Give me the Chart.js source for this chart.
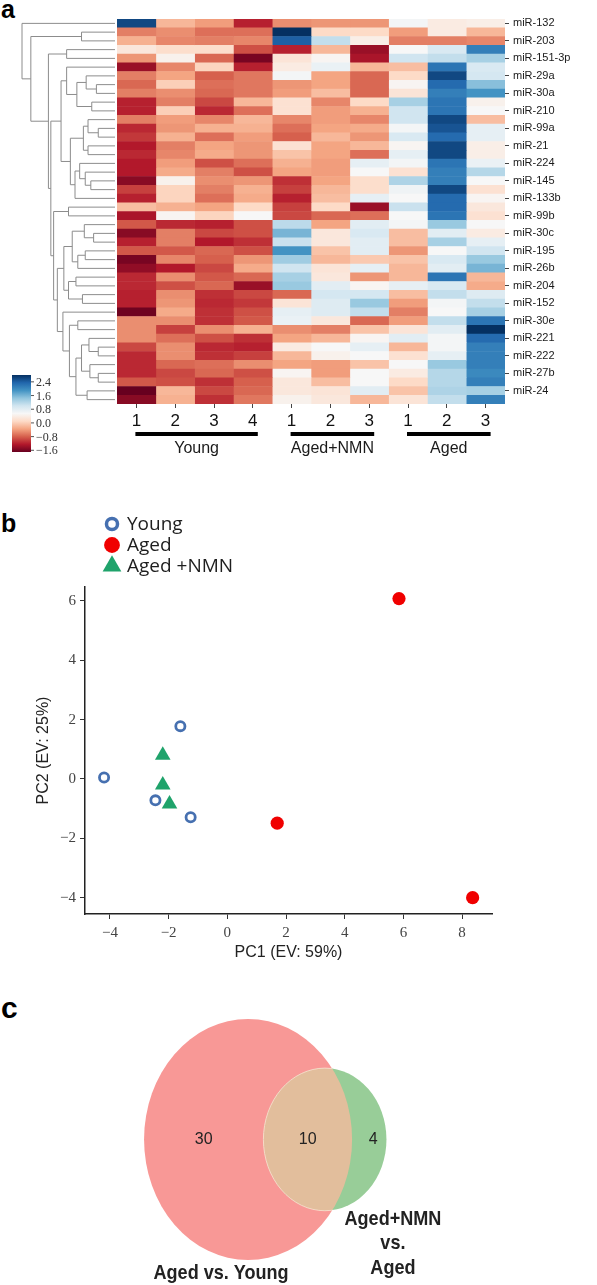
<!DOCTYPE html>
<html>
<head>
<meta charset="utf-8">
<script src="https://cdn.jsdelivr.net/npm/chart.js@4.4.1/dist/chart.umd.min.js"></script>
<style>
  html, body { margin: 0; padding: 0; background: #fff; }
  body { width: 597px; height: 1285px; position: relative; overflow: hidden; font-family: "Liberation Sans", Arial, sans-serif; }
  .panel { position: absolute; left: 0; width: 597px; }
  .tag { position: absolute; left: 1px; font-weight: bold; color: #000; line-height: 1; }
</style>
</head>
<body>
<div class="tag" style="top:-3px;font-size:25px">a</div>
<div class="tag" style="top:511px;font-size:25px">b</div>
<div class="tag" style="top:993px;font-size:30px">c</div>
<div class="panel" style="top:0;height:470px"><canvas id="heatChart"></canvas></div>
<div class="panel" style="top:490px;height:490px"><canvas id="pcaChart"></canvas></div>
<div class="panel" style="top:980px;height:305px"><canvas id="vennChart"></canvas></div>
<script>
// ---- panel a data ----
const rowLabels = ['miR-132', '', 'miR-203', '', 'miR-151-3p', '', 'miR-29a', '', 'miR-30a', '',
  'miR-210', '', 'miR-99a', '', 'miR-21', '', 'miR-224', '', 'miR-145', '', 'miR-133b', '',
  'miR-99b', '', 'miR-30c', '', 'miR-195', '', 'miR-26b', '', 'miR-204', '', 'miR-152', '',
  'miR-30e', '', 'miR-221', '', 'miR-222', '', 'miR-27b', '', 'miR-24', ''];
const colLabels = ['1', '2', '3', '4', '1', '2', '3', '1', '2', '3'];
const groupNames = ['Young', 'Aged+NMN', 'Aged'];

// z-scores per row, one array per group (rows top to bottom)
const youngVals = [
  [2.6, -0.2, -0.4, -1.2], [-0.6, -0.5, -0.7, -0.7], [-0.25, -0.55, -0.6, -0.55], [0.3, 0.15, 0.15, -0.9],
  [-0.45, 0.45, -0.75, -1.6], [-1.4, -0.55, 0.05, -1.2], [-0.6, -0.35, -0.8, -0.65], [-0.75, 0.0, -0.7, -0.65],
  [-0.6, -0.5, -0.75, -0.65], [-1.2, -0.6, -0.95, -0.2], [-1.2, 0.0, -1.15, -0.7], [-0.6, -0.4, -0.55, -0.2],
  [-1.15, -0.45, -0.25, -0.25], [-1.05, -0.25, -0.7, -0.4], [-1.25, -0.6, -0.35, -0.45], [-1.15, -0.55, -0.3, -0.45],
  [-1.25, -0.4, -0.9, -0.7], [-1.25, -0.3, -0.6, -0.9], [-1.5, 0.45, -0.5, -0.45], [-1.0, 0.05, -0.6, -0.25],
  [-1.2, 0.05, -0.7, -0.3], [-0.15, -0.25, -0.35, 0.1], [-1.3, 0.5, 0.05, 0.55], [-0.85, -1.15, -1.2, -0.9],
  [-1.5, -0.6, -0.95, -0.9], [-1.2, -0.6, -1.25, -1.1], [-0.85, -0.85, -0.75, -0.9], [-1.6, -0.55, -0.8, -0.45],
  [-1.45, -1.25, -0.95, -0.3], [-1.15, -0.5, -0.85, -0.75], [-1.15, -0.9, -0.75, -1.4], [-1.2, -0.5, -1.1, -0.95],
  [-1.2, -0.45, -1.15, -1.05], [-1.65, -0.3, -1.1, -0.9], [-0.5, -0.5, -1.1, -0.85], [-0.5, -1.0, -0.5, -0.25],
  [-0.5, -0.7, -0.9, -1.1], [-0.95, -0.5, -1.15, -1.2], [-1.15, -0.5, -1.1, -1.0], [-1.15, -0.75, -0.7, -0.5],
  [-1.15, -0.95, -0.75, -0.9], [-0.85, -0.9, -1.1, -0.8], [-1.75, -0.2, -0.95, -0.75], [-1.5, -0.25, -1.1, -0.65]
];
const agedNmnVals = [
  [-0.5, -0.45, -0.45], [2.8, 0.1, 0.1], [2.4, 1.1, 0.4], [-1.2, -0.2, -1.4],
  [0.25, 0.5, -1.3], [0.35, 0.7, -0.2], [0.6, -0.35, -0.75], [-0.45, -0.35, -0.75],
  [-0.4, -0.15, -0.75], [0.2, -0.55, 0.1], [0.2, -0.4, -0.25], [-0.55, -0.4, -0.55],
  [-0.7, -0.35, -0.3], [-0.8, -0.2, -0.45], [0.2, -0.35, -0.2], [-0.1, -0.35, -0.7],
  [-0.25, -0.4, 0.75], [-0.35, -0.4, 0.55], [-1.1, -0.35, 0.15], [-1.0, -0.2, 0.15],
  [-1.2, -0.15, 0.75], [-1.0, 0.1, -1.4], [-0.95, -0.75, -0.7], [1.15, -0.35, 0.8],
  [1.6, 0.3, 0.9], [1.05, 0.3, 0.8], [1.9, -0.1, 0.8], [1.35, -0.2, -0.05],
  [1.0, 0.25, 0.75], [1.3, 0.3, -0.45], [1.4, 0.8, 0.5], [-0.75, 0.95, 0.95],
  [0.25, 0.85, 1.4], [0.75, 0.85, 1.1], [0.7, 0.3, -0.75], [-0.5, -0.6, -0.1],
  [-0.35, -0.2, 0.5], [0.35, 0.55, 0.75], [-0.2, 0.45, 0.55], [-0.35, -0.4, -0.1],
  [0.5, -0.4, 0.55], [0.3, -0.15, 0.55], [0.3, 0.25, 0.8], [0.45, 0.3, -0.2]
];
const agedVals = [
  [0.6, 0.35, 0.4], [-0.4, 0.35, -0.2], [-0.6, -0.6, -0.55], [0.55, 0.9, 2.1],
  [1.0, 1.1, 1.3], [-0.15, 2.2, 0.9], [0.1, 2.6, 0.95], [0.5, 2.3, 1.5],
  [0.25, 2.1, 1.9], [1.3, 2.2, 0.45], [1.0, 2.2, 0.55], [1.0, 2.6, -0.15],
  [0.6, 2.5, 0.75], [0.9, 2.3, 0.75], [0.5, 2.6, 0.4], [0.75, 2.6, 0.4],
  [0.6, 2.2, 0.7], [0.2, 2.1, 1.2], [1.25, 2.1, 0.55], [0.65, 2.6, 0.2],
  [0.55, 2.3, 0.5], [1.05, 2.3, 0.3], [0.55, 2.2, 0.2], [0.6, 1.4, 0.55],
  [-0.15, 0.8, 0.35], [-0.15, 1.3, 0.75], [-0.45, 0.55, 1.0], [-0.1, 0.9, 1.4],
  [-0.2, 0.8, 1.6], [-0.2, 2.2, -0.2], [0.75, 0.9, -0.3], [-0.15, 1.1, 0.85],
  [-0.4, 0.6, 1.1], [-0.6, 0.55, 1.3], [-0.4, 1.1, 2.2], [0.25, 0.8, 2.8],
  [0.8, 0.6, 2.3], [-0.2, 0.6, 2.1], [0.2, 0.75, 2.1], [0.55, 1.4, 2.1],
  [0.35, 1.2, 2.0], [0.1, 1.2, 2.1], [-0.1, 1.25, 1.3], [0.25, 1.1, 2.1]
];
const groupVals = [youngVals, agedNmnVals, agedVals];

// row dendrogram: [left, right, height]; leaves 0-43, merged nodes 44+
const dendroMerges = [
  [1, 2, 3.6], [3, 4, 5.2], [7, 8, 2.0], [6, 46, 3.1], [9, 10, 2.5], [47, 48, 4.1], [5, 49, 5.2],
  [12, 13, 1.8], [11, 51, 2.9], [14, 15, 2.9], [52, 53, 3.4], [18, 19, 2.6], [17, 55, 3.2],
  [16, 56, 3.8], [57, 20, 4.3], [54, 58, 4.8], [50, 59, 5.8], [21, 22, 5.0], [24, 25, 2.3],
  [23, 62, 3.3], [26, 27, 3.2], [28, 64, 4.0], [63, 65, 4.6], [29, 30, 4.2], [31, 32, 3.5],
  [67, 68, 5.0], [66, 69, 5.5], [37, 38, 1.8], [36, 71, 2.8], [40, 41, 1.8], [39, 73, 2.7],
  [72, 74, 3.6], [42, 43, 3.0], [75, 76, 4.2], [34, 35, 4.0], [78, 77, 4.9], [33, 79, 5.6],
  [70, 80, 6.2], [61, 81, 6.6], [60, 82, 6.9], [45, 83, 7.16], [44, 84, 9.05], [0, 85, 10]
];

const colorMin = -1.7;
const colorMax = 2.8;
const colorbarTicks = [2.4, 1.6, 0.8, 0.0, -0.8, -1.6];

// ---- panel b data ----
const youngPC1 = [-4.2, -1.6, -2.45, -1.25];
const youngPC2 = [0.05, 1.78, -0.72, -1.29];
const agedPC1 = [5.85, 1.7, 8.36];
const agedPC2 = [6.08, -1.49, -4.0];
const nmnPC1 = [-2.2, -2.2, -1.97];
const nmnPC2 = [0.8, -0.2, -0.84];
const pc1Ticks = [-4, -2, 0, 2, 4, 6, 8];
const pc2Ticks = [-4, -2, 0, 2, 4, 6];

// ---- panel c data ----
const vennCounts = [30, 10, 4]; // only A, shared, only B
const vennSetA = 'Aged vs. Young';
const vennSetB = ['Aged+NMN', 'vs.', 'Aged'];

Chart.defaults.font.family = '"Liberation Sans", Arial, sans-serif';
Chart.defaults.animation = false;

const rdbu = ['#67001f', '#b2182b', '#d6604d', '#f4a582', '#fddbc7', '#f7f7f7',
  '#d1e5f0', '#92c5de', '#4393c3', '#2166ac', '#053061'];

function hexToRgb(h) {
  return [parseInt(h.slice(1, 3), 16), parseInt(h.slice(3, 5), 16), parseInt(h.slice(5, 7), 16)];
}

function valueToColor(v) {
  let t = (v - colorMin) / (colorMax - colorMin);
  t = Math.max(0, Math.min(1, t));
  const pos = t * (rdbu.length - 1);
  const i = Math.min(Math.floor(pos), rdbu.length - 2);
  const f = pos - i;
  const a = hexToRgb(rdbu[i]), b = hexToRgb(rdbu[i + 1]);
  const c = a.map((av, k) => Math.round(av + (b[k] - av) * f));
  return `rgb(${c[0]},${c[1]},${c[2]})`;
}

function fmtMinus(v) {
  return v < 0 ? '\u2212' + Math.abs(v) : String(v);
}

// one stacked dataset per sample column
const heatDatasets = [];
groupVals.forEach((vals, gi) => {
  for (let c = 0; c < vals[0].length; c++) {
    heatDatasets.push({
      label: groupNames[gi] + ' ' + (c + 1),
      data: vals.map(() => 1),
      backgroundColor: vals.map(r => valueToColor(r[c])),
      borderWidth: 0,
      barPercentage: 1,
      categoryPercentage: 1
    });
  }
});

const heatDecor = {
  id: 'heatDecor',
  afterDraw(chart) {
    const ctx = chart.ctx;
    const area = chart.chartArea;
    const xS = chart.scales.x, yS = chart.scales.y;
    ctx.save();

    // dendrogram
    const dendroLeft = 22;
    const maxH = Math.max(...dendroMerges.map(m => m[2]));
    const xOf = h => area.left - 2 - (h / maxH) * (area.left - 2 - dendroLeft);
    const nodes = rowLabels.map((_, i) => ({ y: yS.getPixelForValue(i), h: 0 }));
    ctx.strokeStyle = '#8c8c8c';
    ctx.lineWidth = 1;
    dendroMerges.forEach(([a, b, h]) => {
      const na = nodes[a], nb = nodes[b];
      const x = xOf(h);
      ctx.beginPath();
      ctx.moveTo(xOf(na.h), na.y);
      ctx.lineTo(x, na.y);
      ctx.lineTo(x, nb.y);
      ctx.lineTo(xOf(nb.h), nb.y);
      ctx.stroke();
      nodes.push({ y: (na.y + nb.y) / 2, h: h });
    });

    // colour bar
    const cbL = 12, cbR = 31, cbTop = 375, cbBot = 452;
    const grad = ctx.createLinearGradient(0, cbBot, 0, cbTop);
    rdbu.forEach((c, i) => grad.addColorStop(i / (rdbu.length - 1), c));
    ctx.fillStyle = grad;
    ctx.fillRect(cbL, cbTop, cbR - cbL, cbBot - cbTop);
    ctx.font = '12px "Liberation Serif", serif';
    ctx.fillStyle = '#333';
    ctx.strokeStyle = '#555';
    ctx.textBaseline = 'middle';
    ctx.textAlign = 'left';
    colorbarTicks.forEach(v => {
      const y = cbBot - (v - colorMin) / (colorMax - colorMin) * (cbBot - cbTop);
      ctx.beginPath();
      ctx.moveTo(cbR, y);
      ctx.lineTo(cbR + 3, y);
      ctx.stroke();
      ctx.fillText(v < 0 ? '\u2212' + Math.abs(v).toFixed(1) : v.toFixed(1), cbR + 5, y + 1);
    });

    // group bars and names
    let start = 0;
    ctx.font = '16px "Liberation Sans", Arial, sans-serif';
    ctx.textAlign = 'center';
    groupVals.forEach((vals, gi) => {
      const end = start + vals[0].length - 1;
      const x0 = xS.getPixelForValue(start + 0.5) - 1;
      const x1 = xS.getPixelForValue(end + 0.5) + 5;
      ctx.fillStyle = '#000';
      ctx.fillRect(x0, 432, x1 - x0, 4);
      ctx.fillStyle = '#1a1a1a';
      ctx.fillText(groupNames[gi], (x0 + x1) / 2, 449);
      start = end + 1;
    });
    ctx.restore();
  }
};

new Chart(document.getElementById('heatChart'), {
  type: 'bar',
  data: { labels: rowLabels, datasets: heatDatasets },
  options: {
    indexAxis: 'y',
    responsive: true,
    maintainAspectRatio: false,
    events: [],
    layout: { padding: { left: 117, top: 19, right: 0, bottom: 0 } },
    plugins: { legend: { display: false }, tooltip: { enabled: false } },
    scales: {
      x: {
        type: 'linear',
        stacked: true,
        min: 0,
        max: colLabels.length,
        afterBuildTicks: s => { s.ticks = colLabels.map((_, i) => ({ value: i + 0.5 })); },
        afterFit: s => { s.height = 66; },
        ticks: {
          callback: (v, i) => colLabels[i],
          font: { size: 17 },
          color: '#111',
          padding: 3,
          maxRotation: 0,
          autoSkip: false
        },
        grid: { drawOnChartArea: false, tickLength: 4, color: '#444' },
        border: { display: false }
      },
      y: {
        type: 'category',
        position: 'right',
        stacked: true,
        afterFit: s => { s.width = 92; },
        ticks: { autoSkip: false, font: { size: 11 }, color: '#1a1a1a', padding: 4 },
        grid: {
          drawOnChartArea: false,
          tickLength: 4,
          offset: false,
          color: c => (c.index % 2 ? 'rgba(0,0,0,0)' : '#444')
        },
        border: { display: false }
      }
    }
  },
  plugins: [heatDecor]
});

// ---- panel b: PCA ----
const pcaSets = [
  { label: 'Young', data: youngPC1.map((x, i) => ({ x, y: youngPC2[i] })),
    pointStyle: 'circle', pointRadius: 4.6, pointBorderWidth: 2.8,
    pointBorderColor: '#4670b0', pointBackgroundColor: '#ffffff' },
  { label: 'Aged', data: agedPC1.map((x, i) => ({ x, y: agedPC2[i] })),
    pointStyle: 'circle', pointRadius: 6.6, pointBorderWidth: 0,
    pointBorderColor: '#f00000', pointBackgroundColor: '#f00000' },
  { label: 'Aged +NMN', data: nmnPC1.map((x, i) => ({ x, y: nmnPC2[i] })),
    pointStyle: 'triangle', pointRadius: 9, pointBorderWidth: 0,
    pointBorderColor: '#1fa36b', pointBackgroundColor: '#1fa36b' }
];

const pcaLegend = {
  id: 'pcaLegend',
  afterDraw(chart) {
    const ctx = chart.ctx;
    ctx.save();
    ctx.font = '19px "Open Sans", sans-serif';
    ctx.textBaseline = 'middle';
    ctx.textAlign = 'left';
    chart.data.datasets.forEach((ds, i) => {
      const y = 34 + i * 21;
      ctx.fillStyle = ds.pointBackgroundColor;
      ctx.strokeStyle = ds.pointBorderColor;
      ctx.lineWidth = ds.pointBorderWidth * 1.25;
      Chart.helpers.drawPoint(ctx, {
        pointStyle: ds.pointStyle,
        radius: ds.pointRadius * 1.2,
        borderWidth: ds.pointBorderWidth * 1.25,
        rotation: 0
      }, 112, y);
      ctx.fillStyle = '#1e1e1e';
      ctx.fillText(ds.label, 127, y + 1);
    });
    ctx.restore();
  }
};

const serifTick = { family: '"Liberation Serif", serif', size: 15 };

new Chart(document.getElementById('pcaChart'), {
  type: 'scatter',
  data: { datasets: pcaSets },
  options: {
    responsive: true,
    maintainAspectRatio: false,
    events: [],
    layout: { padding: { left: 0, top: 97, right: 105, bottom: 14 } },
    plugins: { legend: { display: false }, tooltip: { enabled: false } },
    scales: {
      x: {
        type: 'linear',
        min: -4.85,
        max: 9.02,
        afterBuildTicks: s => { s.ticks = pc1Ticks.map(v => ({ value: v })); },
        afterFit: s => { s.height = 52; },
        ticks: { callback: v => fmtMinus(v), font: serifTick, color: '#444', padding: 5 },
        grid: { drawOnChartArea: false, tickLength: 5, color: '#333' },
        border: { color: '#222', width: 1.5 },
        title: { display: true, text: 'PC1 (EV: 59%)', font: { size: 16 }, color: '#222',
          padding: { top: 0, bottom: 4 } }
      },
      y: {
        type: 'linear',
        min: -4.55,
        max: 6.47,
        afterBuildTicks: s => { s.ticks = pc2Ticks.map(v => ({ value: v })); },
        afterFit: s => { s.width = 85; },
        ticks: { callback: v => fmtMinus(v), font: serifTick, color: '#444', padding: 4 },
        grid: { drawOnChartArea: false, tickLength: 5, color: '#333' },
        border: { color: '#222', width: 1.5 },
        title: { display: true, text: 'PC2 (EV: 25%)', font: { size: 16 }, color: '#222',
          padding: { top: 34, bottom: 0 } }
      }
    }
  },
  plugins: [pcaLegend]
});

// ---- panel c: area-proportional Venn ----
function lensArea(r1, r2, d) {
  const a1 = Math.acos((d * d + r1 * r1 - r2 * r2) / (2 * d * r1));
  const a2 = Math.acos((d * d + r2 * r2 - r1 * r1) / (2 * d * r2));
  const k = Math.sqrt((-d + r1 + r2) * (d + r1 - r2) * (d - r1 + r2) * (d + r1 + r2));
  return r1 * r1 * a1 + r2 * r2 * a2 - 0.5 * k;
}

function solveDistance(r1, r2, shared) {
  let lo = Math.abs(r1 - r2) + 1e-6, hi = r1 + r2 - 1e-6;
  for (let i = 0; i < 60; i++) {
    const mid = (lo + hi) / 2;
    if (lensArea(r1, r2, mid) > shared) lo = mid; else hi = mid;
  }
  return (lo + hi) / 2;
}

const vennDraw = {
  id: 'vennDraw',
  afterDraw(chart) {
    const ctx = chart.ctx;
    const xS = chart.scales.x, yS = chart.scales.y;
    const r1 = Math.sqrt((vennCounts[0] + vennCounts[1]) / Math.PI);
    const r2 = Math.sqrt((vennCounts[1] + vennCounts[2]) / Math.PI);
    const d = solveDistance(r1, r2, vennCounts[1]);
    const ell = (cx, r) => ({
      x: xS.getPixelForValue(cx),
      y: yS.getPixelForValue(0),
      rx: xS.getPixelForValue(cx + r) - xS.getPixelForValue(cx),
      ry: yS.getPixelForValue(0) - yS.getPixelForValue(r)
    });
    const A = ell(0, r1), B = ell(d, r2);
    const path = e => { ctx.beginPath(); ctx.ellipse(e.x, e.y, e.rx, e.ry, 0, 0, Math.PI * 2); };

    ctx.save();
    path(A); ctx.fillStyle = 'rgb(248,152,150)'; ctx.fill();
    path(B); ctx.fillStyle = 'rgb(152,205,152)'; ctx.fill();
    ctx.save();
    path(A); ctx.clip();
    path(B); ctx.fillStyle = 'rgb(226,190,156)'; ctx.fill();
    ctx.strokeStyle = 'rgba(255,225,210,0.8)'; ctx.lineWidth = 1; ctx.stroke();
    ctx.restore();

    // counts
    ctx.fillStyle = '#222';
    ctx.font = '16px "Liberation Sans", Arial, sans-serif';
    ctx.textAlign = 'center';
    ctx.textBaseline = 'middle';
    const cy = yS.getPixelForValue(0);
    ctx.fillText(String(vennCounts[0]), xS.getPixelForValue((-r1 + d - r2) / 2), cy);
    ctx.fillText(String(vennCounts[1]), xS.getPixelForValue((d - r2 + r1) / 2), cy);
    ctx.fillText(String(vennCounts[2]), xS.getPixelForValue((r1 + d + r2) / 2) + 4, cy);

    // set names (bold, slightly condensed)
    ctx.font = 'bold 21px "Liberation Sans", Arial, sans-serif';
    const squish = (txt, x, y) => {
      ctx.save();
      ctx.translate(x, y);
      ctx.scale(0.86, 1);
      ctx.fillText(txt, 0, 0);
      ctx.restore();
    };
    squish(vennSetA, A.x - 27, A.y + A.ry + 13);
    vennSetB.forEach((t, i) => squish(t, B.x + 68, B.y + B.ry + 8 + i * 24.5));
    ctx.restore();
  }
};

new Chart(document.getElementById('vennChart'), {
  type: 'scatter',
  data: { datasets: [] },
  options: {
    responsive: true,
    maintainAspectRatio: false,
    events: [],
    layout: { padding: 0 },
    plugins: { legend: { display: false }, tooltip: { enabled: false } },
    scales: {
      x: { type: 'linear', display: false, min: -8.51, max: 11.97 },
      y: { type: 'linear', display: false, min: -4.31, max: 4.72 }
    }
  },
  plugins: [vennDraw]
});
</script>
</body>
</html>
